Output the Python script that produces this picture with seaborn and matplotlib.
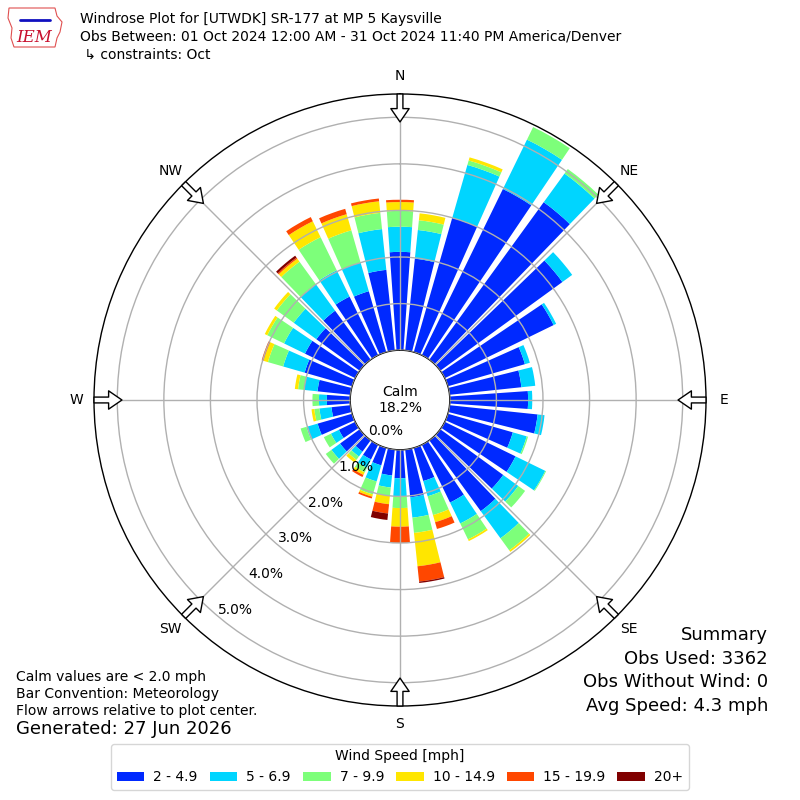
import numpy as np
import matplotlib
matplotlib.use("Agg")
import matplotlib.pyplot as plt
import seaborn as sns
from matplotlib.patches import Patch, Polygon
from matplotlib.lines import Line2D

# wind directions (degrees, meteorological) and speed bins
directions = np.arange(0, 360, 10)
speed_bins = ["2 - 4.9", "5 - 6.9", "7 - 9.9", "10 - 14.9", "15 - 19.9", "20+"]
dir_labels = ["N", "NE", "E", "SE", "S", "SW", "W", "NW"]

# frequency (%) of each speed bin per direction
speed_2_5 = [2.11, 1.98, 3.00, 3.97, 4.18, 3.24, 2.60, 1.72, 1.55, 1.68, 1.90, 1.45,
             1.69, 1.67, 1.88, 1.38, 0.74, 1.03, 0.61, 0.56, 0.39, 0.35, 0.30, 0.52,
             0.39, 0.77, 0.41, 0.50, 0.71, 1.06, 1.20, 1.15, 1.30, 1.40, 1.36, 1.74]
speed_5_7 = [0.54, 0.62, 1.18, 1.18, 0.76, 0.26, 0.06, 0.11, 0.30, 0.09, 0.15, 0.31,
             0.71, 0.40, 0.72, 0.50, 0.34, 0.44, 0.39, 0.26, 0.36, 0.20, 0.13, 0.23,
             0.19, 0.25, 0.26, 0.17, 0.29, 0.48, 0.50, 0.60, 0.70, 0.63, 0.64, 0.88]
speed_7_10 = [0.34, 0.21, 0.10, 0.30, 0.12, 0.00, 0.00, 0.00, 0.00, 0.00, 0.00, 0.03,
              0.02, 0.18, 0.32, 0.38, 0.42, 0.33, 0.25, 0.18, 0.29, 0.11, 0.09, 0.15,
              0.17, 0.13, 0.11, 0.14, 0.13, 0.34, 0.40, 0.45, 0.60, 0.79, 0.72, 0.35]
speed_10_15 = [0.19, 0.15, 0.07, 0.00, 0.00, 0.00, 0.00, 0.00, 0.00, 0.00, 0.00, 0.00,
               0.00, 0.00, 0.04, 0.04, 0.16, 0.72, 0.40, 0.18, 0.05, 0.06, 0.07, 0.00,
               0.00, 0.00, 0.06, 0.00, 0.07, 0.10, 0.06, 0.07, 0.08, 0.38, 0.36, 0.25]
speed_15_20 = [0.05, 0.00, 0.00, 0.00, 0.00, 0.00, 0.00, 0.00, 0.00, 0.00, 0.00, 0.00,
               0.00, 0.00, 0.00, 0.00, 0.15, 0.33, 0.35, 0.20, 0.04, 0.05, 0.00, 0.00,
               0.00, 0.00, 0.00, 0.00, 0.00, 0.04, 0.00, 0.00, 0.03, 0.10, 0.12, 0.06]
speed_20p = [0.00, 0.00, 0.00, 0.00, 0.00, 0.00, 0.00, 0.00, 0.00, 0.00, 0.00, 0.00,
             0.00, 0.00, 0.00, 0.00, 0.00, 0.03, 0.00, 0.14, 0.00, 0.00, 0.00, 0.00,
             0.00, 0.00, 0.00, 0.00, 0.00, 0.00, 0.00, 0.00, 0.05, 0.00, 0.00, 0.00]

calm_pct = 18.2
summary = ["Summary", "Obs Used: 3362", "Obs Without Wind: 0", "Avg Speed: 4.3 mph"]
notes = ["Calm values are < 2.0 mph", "Bar Convention: Meteorology",
         "Flow arrows relative to plot center."]

sns.set_style("white")
plt.rcParams["font.family"] = ["DejaVu Sans"]
plt.rcParams["text.color"] = "black"
plt.rcParams["xtick.color"] = "black"
plt.rcParams["ytick.color"] = "black"
colors = sns.color_palette(plt.cm.jet(np.linspace(0, 1, 7)[1:]))

fig = plt.figure(figsize=(8, 8), dpi=100)
ax = fig.add_axes([0.1175, 0.1175, 0.765, 0.765], projection="polar")
ax.set_theta_zero_location("N")
ax.set_theta_direction(-1)

theta = np.radians(directions)
width = np.radians(8)
bottom = np.zeros(len(directions))
for vals, col in zip([speed_2_5, speed_5_7, speed_7_10, speed_10_15, speed_15_20, speed_20p], colors):
    vals = np.array(vals)
    ax.bar(theta, vals, width=width, bottom=bottom, color=col, linewidth=0, zorder=1)
    bottom += vals

ax.set_ylim(0, 5.5)
ax.set_rorigin(-1.07)
ax.set_yticks(range(6))
ax.set_yticklabels([f"{v:.1f}%" for v in range(6)], fontsize=10)
ax.set_rlabel_position(220)
ax.set_xticks(np.radians(np.arange(0, 360, 45)))
ax.set_xticklabels(dir_labels, fontsize=10)
ax.tick_params(axis="x", pad=2.5)
ax.grid(True, color="#b0b0b0", linewidth=1)
ax.set_axisbelow(False)
for name, sp in ax.spines.items():
    sp.set_color("black")
    sp.set_linewidth(1)

ax.text(0, -1.07, f"Calm\n{calm_pct:.1f}%", ha="center", va="center", fontsize=10)

# flow arrows at the rim
for th in np.radians(np.arange(0, 360, 45)):
    ax.annotate("", xy=(th, 4.9), xytext=(th, 5.5),
                arrowprops=dict(arrowstyle="simple,head_length=0.8,head_width=1.1,tail_width=0.35",
                                fc="white", ec="black", lw=1, mutation_scale=12,
                                shrinkA=0, shrinkB=0),
                annotation_clip=False, zorder=5)

# rough IEM logo
W, H = 800, 800
outline = [(9, 8), (55, 8), (57, 16), (62, 22), (60, 32), (57, 38), (55, 47), (14, 47), (11, 38), (12, 28), (8, 18)]
fig.add_artist(Polygon([(x / W, 1 - y / H) for x, y in outline], closed=True, fill=False,
                       edgecolor="#e05050", linewidth=0.8, transform=fig.transFigure))
fig.add_artist(Line2D([20 / W, 50 / W], [1 - 20 / H, 1 - 20 / H], color="#1010c0", linewidth=2,
                      transform=fig.transFigure))
fig.text(16 / W, 1 - 37 / H, "IEM", color="#c8102e", fontsize=12, fontstyle="italic",
         family="DejaVu Serif", ha="left", va="center")

# header
fig.text(0.1, 0.976, "Windrose Plot for [UTWDK] SR-177 at MP 5 Kaysville", fontsize=10, va="center")
fig.text(0.1, 0.954, "Obs Between: 01 Oct 2024 12:00 AM - 31 Oct 2024 11:40 PM America/Denver",
         fontsize=10, va="center")
fig.text(0.1, 0.932, " \u21b3 constraints: Oct", fontsize=10, va="center")

for i, t in enumerate(notes):
    fig.text(0.02, 1 - (677 + 17 * i) / 800, t, fontsize=10, va="center")
fig.text(0.02, 1 - 729 / 800, "Generated: 27 Jun 2026", fontsize=13, va="center")
for i, t in enumerate(summary):
    fig.text(0.96, 1 - (635 + 23.7 * i) / 800, t, fontsize=13, ha="right", va="center")

handles = [Patch(facecolor=c, edgecolor="none") for c in colors]
fig.legend(handles, speed_bins, loc="lower center", ncol=6, bbox_to_anchor=(0.5, 0.004),
           title="Wind Speed [mph]", fontsize=10, title_fontsize=10, frameon=True,
           handlelength=2.0, handletextpad=0.65, columnspacing=0.85)

fig.savefig("out.png", dpi=100)
